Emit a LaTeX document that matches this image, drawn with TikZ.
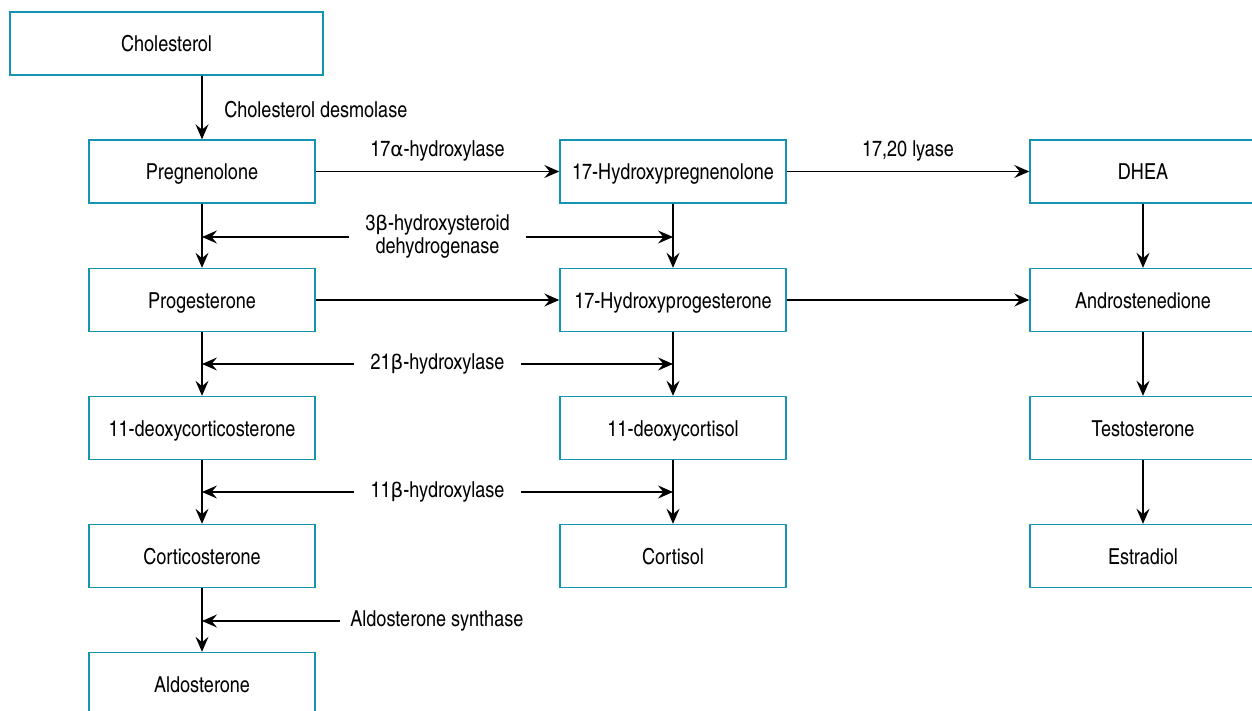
\documentclass[tikz,border=0pt]{standalone}
\usepackage{fontspec}
\setmainfont{TeX Gyre Heros Cn}
\newfontfamily\greekfont{DejaVu Sans}
\usetikzlibrary{arrows.meta,positioning,calc}
\definecolor{boxblue}{RGB}{20,148,178}
\newcommand{\ga}{{\greekfont\fontsize{10}{11}\selectfont α}}
\newcommand{\gb}{{\greekfont\fontsize{10}{11}\selectfont β}}
\tikzset{%
    stage/.style={draw=boxblue, line width=0.7pt, minimum width=113pt,
      minimum height=31.5pt, inner sep=0pt, text height=9pt, text depth=0.5pt,
      font=\fontsize{11}{13}\selectfont},
    enzyme/.style={align=center, inner xsep=8pt, inner ysep=2pt,
      font=\fontsize{11}{11.5}\selectfont},
    react/.style={-{Stealth[length=7.5pt,width=6.5pt,inset=2.7pt]}, line width=0.65pt},
}
\begin{document}
\begin{tikzpicture}[x=0.5pt,y=-0.5pt]
 \useasboundingbox (0,0) rectangle (1252,711);
 % steroids
 \node[stage, minimum width=156.5pt] (chol) at (166.5,43.5) {Cholesterol};
 \node[stage] (preg)  at (202,171.5) {Pregnenolone};
 \node[stage] (prog)  at (202,300)   {Progesterone};
 \node[stage] (doc)   at (202,428)   {11-deoxycorticosterone};
 \node[stage] (cort)  at (202,556)   {Corticosterone};
 \node[stage] (aldo)  at (202,684)   {Aldosterone};
 \node[stage] (ohpreg) at (673,171.5) {17-Hydroxypregnenolone};
 \node[stage] (ohprog) at (673,300)   {17-Hydroxyprogesterone};
 \node[stage] (dcort)  at (673,428)   {11-deoxycortisol};
 \node[stage] (cortisol) at (673,556) {Cortisol};
 \node[stage] (dhea)  at (1143,171.5) {DHEA};
 \node[stage] (andro) at (1143,300)   {Androstenedione};
 \node[stage] (testo) at (1143,428)   {Testosterone};
 \node[stage] (estra) at (1143,556)   {Estradiol};
 % enzymes
 \node[enzyme, anchor=west, inner xsep=0pt] (desmo) at (224,110) {Cholesterol desmolase};
 \node[enzyme] (hsd)  at (437.5,237) {3\gb-hydroxysteroid\\dehydrogenase};
 \node[enzyme] (h21)  at (437.5,364) {21\gb-hydroxylase};
 \node[enzyme] (h11)  at (437.5,492) {11\gb-hydroxylase};
 \node[enzyme, anchor=west, inner xsep=5pt] (asyn) at (340,621) {Aldosterone synthase};
 % reactions
 \draw[react] (preg.north |- chol.south) -- (preg.north);
 \draw[react] (preg) -- node[enzyme, above=3pt] {17\ga-hydroxylase} (ohpreg);
 \draw[react] (ohpreg) -- node[enzyme, above=3pt] {17,20 lyase} (dhea);
 \draw[react] (prog) -- (ohprog);
 \draw[react] (ohprog) -- (andro);
 \foreach \a/\b in {preg/prog,prog/doc,doc/cort,cort/aldo,ohpreg/ohprog,
   ohprog/dcort,dcort/cortisol,dhea/andro,andro/testo,testo/estra}
  \draw[react] (\a) -- (\b);
 \foreach \e in {hsd,h21,h11}
 {\draw[react] (\e.west) -- (\e.west -| preg.south);
  \draw[react] (\e.east) -- (\e.east -| ohpreg.south);}
 \draw[react] (asyn.west) -- (asyn.west -| cort.south);
\end{tikzpicture}
\end{document}
